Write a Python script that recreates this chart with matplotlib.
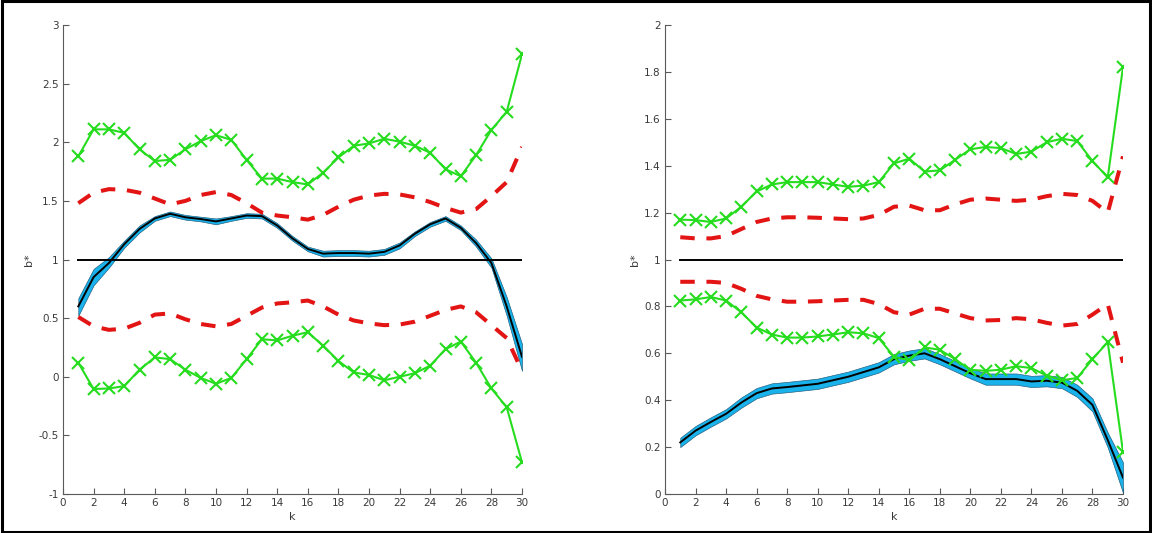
import numpy as np
import matplotlib
matplotlib.use("Agg")
import matplotlib.pyplot as plt
from matplotlib.patches import Rectangle

k = np.arange(1, 31)

# ---- left panel ----
left_mean = [0.60, 0.85, 0.97, 1.13, 1.26, 1.35, 1.39, 1.36, 1.345, 1.325,
             1.35, 1.375, 1.37, 1.29, 1.18, 1.09, 1.05, 1.055, 1.055, 1.05,
             1.065, 1.12, 1.22, 1.30, 1.35, 1.27, 1.14, 0.97, 0.60, 0.17]
left_band_lo = [0.52, 0.78, 0.93, 1.10, 1.23, 1.33, 1.37, 1.34, 1.325, 1.30,
                1.33, 1.355, 1.35, 1.27, 1.16, 1.07, 1.025, 1.03, 1.03, 1.025,
                1.04, 1.095, 1.20, 1.28, 1.33, 1.25, 1.11, 0.93, 0.52, 0.05]
left_band_hi = [0.67, 0.92, 1.02, 1.16, 1.29, 1.37, 1.41, 1.38, 1.365, 1.35,
                1.37, 1.395, 1.39, 1.31, 1.20, 1.11, 1.075, 1.08, 1.08, 1.075,
                1.09, 1.145, 1.24, 1.32, 1.37, 1.29, 1.17, 1.01, 0.68, 0.28]
left_red_hi = [1.48, 1.57, 1.60, 1.595, 1.57, 1.52, 1.47, 1.50, 1.55, 1.575,
               1.55, 1.48, 1.40, 1.375, 1.36, 1.34, 1.38, 1.45, 1.51, 1.545,
               1.56, 1.555, 1.53, 1.49, 1.44, 1.40, 1.43, 1.54, 1.66, 1.96]
left_red_lo = [0.51, 0.43, 0.40, 0.41, 0.46, 0.53, 0.54, 0.49, 0.45, 0.43,
               0.45, 0.52, 0.59, 0.625, 0.635, 0.65, 0.60, 0.53, 0.48, 0.455,
               0.44, 0.445, 0.47, 0.52, 0.57, 0.60, 0.55, 0.44, 0.33, 0.05]
left_green_hi = [1.88, 2.11, 2.11, 2.08, 1.94, 1.84, 1.85, 1.94, 2.01, 2.06,
                 2.02, 1.85, 1.69, 1.69, 1.66, 1.64, 1.74, 1.87, 1.97, 1.99,
                 2.03, 2.005, 1.97, 1.91, 1.77, 1.71, 1.89, 2.105, 2.26, 2.75]
left_green_lo = [0.12, -0.105, -0.10, -0.08, 0.06, 0.165, 0.15, 0.06, -0.01, -0.06,
                 -0.01, 0.15, 0.32, 0.31, 0.35, 0.38, 0.265, 0.135, 0.037, 0.015,
                 -0.03, 0.0, 0.03, 0.095, 0.235, 0.30, 0.12, -0.10, -0.26, -0.73]

# ---- right panel ----
right_mean = [0.22, 0.27, 0.307, 0.342, 0.39, 0.43, 0.45, 0.456, 0.463, 0.47,
              0.485, 0.50, 0.52, 0.54, 0.575, 0.59, 0.60, 0.575, 0.545, 0.515,
              0.49, 0.49, 0.49, 0.48, 0.483, 0.475, 0.44, 0.38, 0.23, 0.07]
right_band_lo = [0.20, 0.25, 0.287, 0.322, 0.368, 0.408, 0.428, 0.434, 0.441, 0.448,
                 0.463, 0.478, 0.498, 0.518, 0.553, 0.568, 0.578, 0.553, 0.523, 0.493,
                 0.466, 0.466, 0.466, 0.456, 0.459, 0.451, 0.414, 0.352, 0.198, 0.005]
right_band_hi = [0.24, 0.29, 0.327, 0.362, 0.412, 0.452, 0.472, 0.478, 0.485, 0.492,
                 0.507, 0.522, 0.542, 0.562, 0.597, 0.612, 0.622, 0.597, 0.567, 0.537,
                 0.514, 0.514, 0.514, 0.504, 0.507, 0.499, 0.466, 0.408, 0.262, 0.135]
right_red_hi = [1.095, 1.09, 1.09, 1.10, 1.13, 1.16, 1.175, 1.18, 1.18, 1.178,
                1.175, 1.172, 1.175, 1.19, 1.225, 1.23, 1.21, 1.21, 1.235, 1.255,
                1.26, 1.255, 1.25, 1.255, 1.27, 1.28, 1.275, 1.25, 1.20, 1.44]
right_red_lo = [0.905, 0.905, 0.905, 0.90, 0.875, 0.845, 0.83, 0.82, 0.82, 0.822,
                0.825, 0.828, 0.828, 0.81, 0.775, 0.765, 0.79, 0.79, 0.77, 0.75,
                0.74, 0.742, 0.75, 0.745, 0.73, 0.718, 0.725, 0.765, 0.81, 0.56]
right_green_hi = [1.17, 1.168, 1.16, 1.175, 1.225, 1.29, 1.32, 1.33, 1.33, 1.33,
                  1.32, 1.31, 1.315, 1.33, 1.41, 1.43, 1.375, 1.38, 1.425, 1.47,
                  1.48, 1.475, 1.45, 1.46, 1.50, 1.515, 1.505, 1.42, 1.35, 1.82]
right_green_lo = [0.825, 0.83, 0.84, 0.825, 0.775, 0.71, 0.68, 0.667, 0.667, 0.672,
                  0.68, 0.69, 0.685, 0.665, 0.585, 0.57, 0.625, 0.615, 0.575, 0.53,
                  0.525, 0.53, 0.545, 0.537, 0.505, 0.485, 0.495, 0.575, 0.648, 0.18]

x_ticks = list(range(0, 31, 2))
left_yticks = [-1, -0.5, 0, 0.5, 1, 1.5, 2, 2.5, 3]
right_yticks = [0, 0.2, 0.4, 0.6, 0.8, 1, 1.2, 1.4, 1.6, 1.8, 2]

BAND = "#19b2ea"
BAND_EDGE = "#1d5878"
RED = "#e31414"
GREEN = "#26dc1e"
AXIS = "#5a5a5a"
TEXT = "#3a3a3a"

plt.rcParams["font.family"] = ["DejaVu Sans"]

fig = plt.figure(figsize=(11.52, 5.33), dpi=100)
fig.patch.set_facecolor("white")

ax_l = fig.add_axes([63 / 1152, 1 - 494 / 533, 459 / 1152, 469 / 533])
ax_r = fig.add_axes([665 / 1152, 1 - 494 / 533, 458 / 1152, 469 / 533])


def draw_panel(ax, mean, lo, hi, red_hi, red_lo, g_hi, g_lo, ylim, yticks):
    ax.fill_between(k, lo, hi, facecolor=BAND, edgecolor=BAND_EDGE,
                    linewidth=0.45, zorder=2)
    ax.plot(k, mean, color="black", linewidth=1.4, zorder=3)
    ax.plot([k[0], k[-1]], [1, 1], color="black", linewidth=1.4, zorder=3)
    for r in (red_hi, red_lo):
        ax.plot(k, r, color=RED, linewidth=2.9, dashes=(3.6, 2.9), zorder=4)
    for g in (g_hi, g_lo):
        ax.plot(k, g, color=GREEN, linewidth=1.5, marker="x", markersize=8,
                markeredgewidth=1.5, zorder=5)
    ax.set_xlim(0, 30)
    ax.set_ylim(*ylim)
    ax.set_xticks(x_ticks)
    ax.set_yticks(yticks)
    ax.set_yticklabels([f"{v:g}" for v in yticks])
    for s in ("top", "right"):
        ax.spines[s].set_visible(False)
    for s in ("left", "bottom"):
        ax.spines[s].set_color(AXIS)
        ax.spines[s].set_linewidth(0.8)
    ax.tick_params(direction="in", length=4, width=0.8, color=AXIS,
                   labelsize=7.5, labelcolor=TEXT, pad=3)
    ax.set_xlabel("k", fontsize=8, color=TEXT, labelpad=3)
    ax.set_ylabel("b*", fontsize=8, color=TEXT, labelpad=3)


draw_panel(ax_l, left_mean, left_band_lo, left_band_hi, left_red_hi, left_red_lo,
           left_green_hi, left_green_lo, (-1, 3), left_yticks)
draw_panel(ax_r, right_mean, right_band_lo, right_band_hi, right_red_hi, right_red_lo,
           right_green_hi, right_green_lo, (0, 2), right_yticks)

# frame around the whole figure
fig.patches.append(Rectangle((0.0015, 0.0025), 0.997, 0.995, transform=fig.transFigure,
                             fill=False, edgecolor="black", linewidth=2.2))

fig.savefig("out.png", dpi=100, facecolor="white")
